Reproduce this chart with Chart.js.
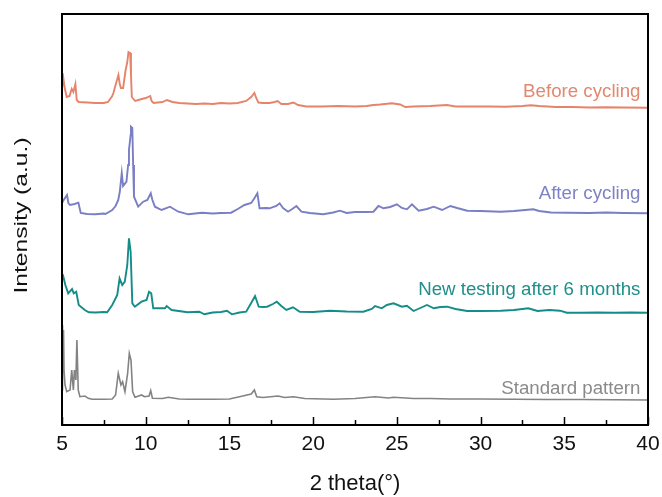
<!DOCTYPE html>
<html><head><meta charset="utf-8">
<script src="https://cdn.jsdelivr.net/npm/chart.js@4.4.1/dist/chart.umd.min.js"></script>
<style>html,body{margin:0;padding:0;background:#fff;}#wrap{width:662px;height:497px;}</style>
</head><body><div id="wrap"><canvas id="c" width="662" height="497"></canvas></div>
<script>
// ---- data (2 theta in degrees, intensity in arbitrary units above each pattern's baseline) ----
const seriesNames = ["Before cycling", "After cycling", "New testing after 6 months", "Standard pattern"];
const xTickValues = [5, 10, 15, 20, 25, 30, 35, 40];
const stackOffsets = [318, 211, 112, 25];

const thetaBefore = [5.0,5.04,5.15,5.28,5.45,5.58,5.68,5.8,5.88,6.0,6.5,7.0,7.5,7.75,8.0,8.07,8.25,8.37,8.45,8.52,8.65,8.8,8.9,8.97,9.07,9.12,9.17,9.37,9.77,10.0,10.27,10.35,10.47,11.0,11.27,11.6,12.0,12.5,13.0,13.5,14.0,14.5,15.0,15.5,16.0,16.3,16.49,16.6,16.73,17.0,17.4,17.7,17.88,18.1,18.5,18.82,19.1,19.6,20.5,21.5,22.5,23.2,23.6,24.0,24.7,25.2,25.5,26.0,27.0,28.0,28.5,29.5,30.5,31.5,32.5,33.0,33.5,34.5,35.5,36.5,37.5,38.5,40.0];
const intBefore = [22,34,20,10,11,18,15,23,7,5,4.5,4,4,5,11,14,25,32,23,19,19,37,45,55,54,32,10,6,8,9,11,6,4,5,7,5,4,3.5,3,3.5,3,4,3.5,4,6,10,14,9,4.5,4,4,5,6,3,3,4.5,2,0.5,0.5,1,0.5,1,2,2.5,3.7,2.5,0,0.5,1,2,0.5,0.5,0.5,0.2,1,1.7,1,0,0,-0.5,-0.3,-0.5,-0.7];

const thetaAfter = [5.0,5.1,5.3,5.38,5.48,5.75,5.98,6.05,6.12,6.5,7.0,7.5,7.6,8.0,8.2,8.36,8.45,8.57,8.65,8.85,8.95,9.0,9.1,9.12,9.2,9.25,9.3,9.55,9.85,10.1,10.3,10.4,10.55,10.95,11.45,11.95,12.55,13.35,14.0,14.5,15.1,15.5,15.9,16.3,16.5,16.67,16.8,17.2,17.4,17.8,18.0,18.2,18.5,18.75,19.0,19.3,19.8,20.6,21.2,21.6,22.0,22.5,23.2,23.6,23.9,24.2,24.6,25.0,25.3,25.6,25.9,26.3,26.8,27.2,27.7,28.2,28.6,29.2,30.0,31.2,32.0,33.15,33.5,34.2,35.2,36.5,37.5,38.5,40.0];
const intAfter = [11,14,19,11,9,10,11.3,6,1,0,-0.3,0.5,0,4,8,14,22,41,28,32.3,49,64,79,87.3,86,49,17.3,7.3,12.3,14,20.7,14,7.3,4,7.3,2.3,-0.3,1.3,0.5,1,1.3,5,9,11,16,20.7,5.7,6,5.7,8,10.7,6,2.3,5,8,2.3,1,-0.3,1.5,3.3,1,2,2,2.3,8,5.7,7,9.7,6,4.7,9.7,3.3,5,7.3,4,8,6,3.3,3,2.3,3,4.7,3,1.5,1.3,1,1.5,1,0.7];

const thetaNew = [5.0,5.08,5.2,5.37,5.6,5.7,5.85,6.0,6.36,6.6,7.0,7.5,7.7,8.0,8.3,8.44,8.6,8.75,8.9,9.0,9.1,9.2,9.35,9.75,10.05,10.2,10.33,10.45,11.15,11.25,11.55,12.5,13.2,13.5,14.0,14.5,14.85,15.15,15.6,16.0,16.3,16.53,16.75,17.0,17.25,17.6,17.83,18.1,18.4,18.8,19.2,20.0,21.0,22.0,23.0,23.5,23.7,24.1,24.4,24.8,25.3,25.6,26.0,26.4,26.8,27.2,27.6,28.0,28.5,29.2,30.0,31.2,32.0,32.85,33.4,34.1,34.75,35.15,36.0,37.0,38.0,39.0,40.0];
const intNew = [33,36.3,28,19.7,24,19.7,21.3,8,3,0.7,0.5,1,0.7,8,18,34.7,28,31.3,48,74.7,61.3,9.7,6.3,11.3,13,21.3,19.7,4.7,4.7,7,3,0.7,1.3,-1.3,0.5,1,2.3,-1.3,0.5,1.3,10,17,6.3,6,6.3,9,11.3,7,3,5.7,1.3,1,2.3,1.5,1.3,4,7,4.7,8,9.7,6.3,7.3,2,5,8,4.7,6,6.3,4,2,2,2.3,3,4.7,2,3,2.3,0.3,0.3,0.5,0.3,0.5,0.3];

const thetaStd = [5.0,5.03,5.06,5.09,5.12,5.18,5.28,5.48,5.58,5.68,5.74,5.83,5.89,5.97,6.07,6.37,6.57,6.8,7.5,8.0,8.2,8.36,8.52,8.62,8.76,8.92,9.02,9.12,9.22,9.36,9.76,9.92,10.2,10.3,10.4,11.0,11.35,12.0,12.55,13.0,14.0,15.0,15.6,16.3,16.49,16.63,17.0,17.9,18.3,18.82,19.5,21.2,22.5,23.7,24.5,24.8,26.0,27.0,28.2,30.0,32.0,34.0,36.0,38.0,40.0];
const intStd = [10,75,40,70,30,15,8.3,10,30,10,30,20,60,10,3.3,4,1.7,0.7,0.7,1,5,26.7,15,18.3,8.3,26.7,46.7,40,8.3,2.7,5,3.3,4,9.3,1.7,1.5,2.7,1,0.7,0.7,0.7,1,3.3,6,10,3.3,2.5,4,2.5,3.3,1.5,0.7,1.5,3.3,2,2.7,1.5,1.5,1,1,0.7,0.5,0.5,0.3,0];

// ---- styles ----
const lineColors = ["#E6846B", "#7A7EC4", "#148C87", "#838383"];
const labelColors = ["#E2886F", "#7E82C6", "#1E8F89", "#8A8A8A"];
const lineWidths = [1.9, 1.9, 1.9, 1.6];
const labelBaseY = [328, 226, 130, 31];   // y value (chart units) of each label's baseline
const FONT = "'Liberation Sans', Arial, sans-serif";

function pts(xs, ys, off) {
  const n = Math.min(xs.length, ys.length);
  const out = [];
  for (let i = 0; i < n; i++) out.push({x: xs[i], y: ys[i] + off});
  return out;
}
const allX = [thetaBefore, thetaAfter, thetaNew, thetaStd];
const allY = [intBefore, intAfter, intNew, intStd];

const datasets = seriesNames.map((name, i) => ({
  label: name,
  data: pts(allX[i], allY[i], stackOffsets[i]),
  borderColor: lineColors[i],
  borderWidth: lineWidths[i],
  pointRadius: 0,
  tension: 0,
  fill: false
}));

const decor = {
  id: 'decor',
  afterDatasetsDraw(chart) {
    const {ctx, chartArea: a, scales: {x, y}} = chart;
    ctx.save();
    // series labels
    ctx.font = "18.7px " + FONT;
    ctx.textAlign = 'right';
    ctx.textBaseline = 'alphabetic';
    seriesNames.forEach((name, i) => {
      ctx.fillStyle = labelColors[i];
      ctx.fillText(name, x.getPixelForValue(39.55), y.getPixelForValue(labelBaseY[i]));
    });
    // frame
    ctx.strokeStyle = '#000';
    ctx.lineWidth = 2;
    ctx.strokeRect(a.left, a.top, a.right - a.left, a.bottom - a.top);
    // inward ticks on the bottom axis
    ctx.lineWidth = 1.5;
    for (let v = 5; v <= 40.001; v += 2.5) {
      const px = Math.round(x.getPixelForValue(v)) + 0.5;
      const major = Math.abs(v / 5 - Math.round(v / 5)) < 1e-6;
      const len = major ? 8 : 5;
      ctx.beginPath();
      ctx.moveTo(px, a.bottom);
      ctx.lineTo(px, a.bottom - len);
      ctx.stroke();
    }
    // y axis title (stretched along its length like the reference)
    ctx.translate(22, (a.top + a.bottom) / 2 - 4);
    ctx.rotate(-Math.PI / 2);
    ctx.scale(1.37, 1);
    ctx.fillStyle = '#111';
    ctx.font = "18px " + FONT;
    ctx.textAlign = 'center';
    ctx.textBaseline = 'middle';
    ctx.fillText('Intensity (a.u.)', 0, 0);
    ctx.restore();
  }
};

new Chart(document.getElementById('c'), {
  type: 'line',
  data: {datasets},
  options: {
    responsive: false,
    animation: false,
    devicePixelRatio: 1,
    layout: {padding: {left: 62, right: 14, top: 14, bottom: 0}},
    plugins: {legend: {display: false}, tooltip: {enabled: false}},
    scales: {
      x: {
        type: 'linear', min: 5, max: 40,
        afterBuildTicks: (s) => { s.ticks = xTickValues.map(v => ({value: v})); },
        afterFit: (s) => { s.paddingLeft = 0; s.paddingRight = 0; s.height = 72; },
        grid: {display: false, drawTicks: false},
        border: {display: false},
        ticks: {color: '#111', font: {family: FONT, size: 21}, padding: 7, maxRotation: 0},
        title: {display: true, text: '2 theta(°)', color: '#111', font: {family: FONT, size: 22}, padding: {top: 13, bottom: 0}}
      },
      y: {type: 'linear', min: 0, max: 411, display: false}
    }
  },
  plugins: [decor]
});
</script>
</body></html>
